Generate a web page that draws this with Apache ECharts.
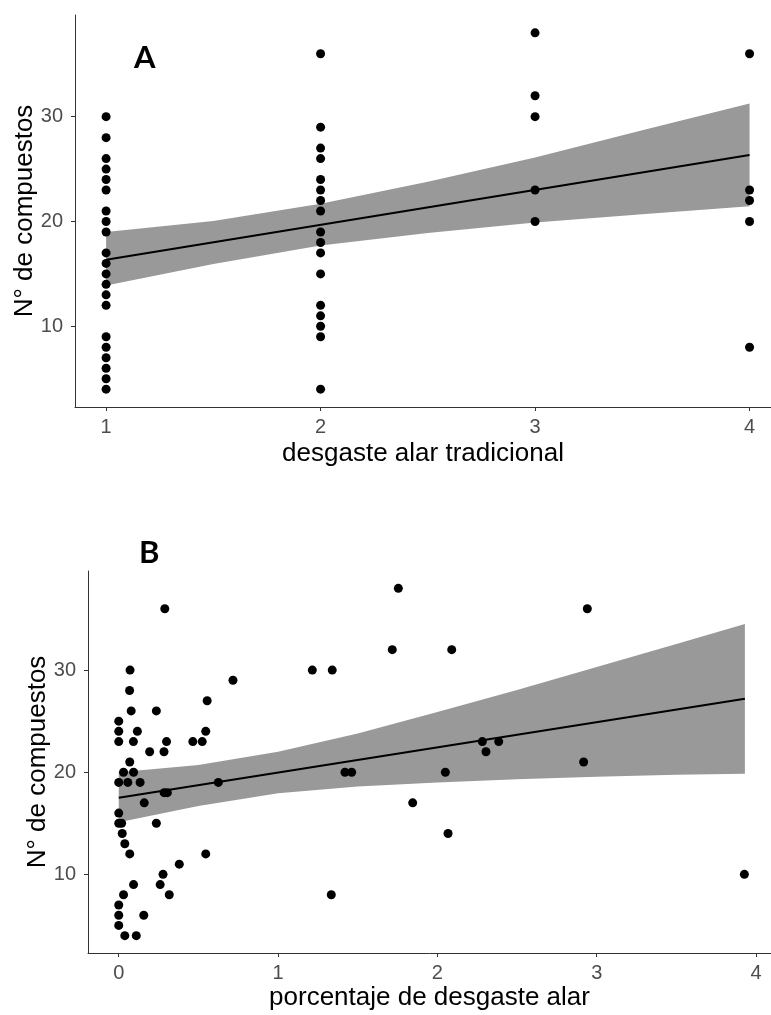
<!DOCTYPE html>
<html>
<head>
<meta charset="utf-8">
<script src="https://cdn.jsdelivr.net/npm/echarts@6/dist/echarts.min.js"></script>
<style>
  html, body { margin: 0; padding: 0; background: #fff; }
  #chart { width: 771px; height: 1015px; }
</style>
</head>
<body>
<div id="chart"></div>
<script>
// ---- panel A: N° de compuestos por nivel de desgaste tradicional ----
const compA1 = [30, 28, 26, 25, 24, 23, 21, 20, 19, 17, 16, 15, 14, 13, 12, 9, 8, 7, 6, 5, 4]
const compA2 = [36, 29, 27, 26, 24, 23, 22, 21, 19, 18, 17, 15, 12, 11, 10, 9, 4]
const compA3 = [38, 32, 30, 23, 20]
const compA4 = [36, 23, 22, 20, 8]

// recta ajustada y banda de confianza
const fitAx = [1, 4]
const fitAy = [16.35, 26.35]
const bandAx = [1, 1.5, 2, 2.5, 3, 3.5, 4]
const bandAlo = [13.9, 15.95, 17.7, 18.9, 19.9, 20.7, 21.45]
const bandAhi = [19.0, 20.05, 21.7, 23.8, 26.1, 28.7, 31.25]

// ---- panel B: porcentaje de desgaste alar ----
const pctB = [0.289, 0.071, 1.215, 1.34, 0.717, 0.068, 0.555, 0.236, 0.078, 0, 0, 0.117, 0.546, 0, 0.092,
  0.3, 0.465, 0.524, 0.194, 0.284, 0.069, 0.03, 0.093, 0, 0.057, 0.134, 0.625, 0.285, 0.305, 0.16,
  0, 0, 0.018, 0.236, 0.022, 0.038, 0.069, 0.546, 0.38, 0.278, 0.093, 0.26, 0.03, 0.317, 0, 0, 0.157,
  0, 0.038, 0.11, 1.755, 2.941, 1.717, 2.09, 2.282, 2.385, 2.305, 1.42, 1.462, 2.05, 2.918, 1.845,
  2.067, 3.927, 1.334]
const compB = [36, 30, 30, 30, 29, 28, 27, 26, 26, 25, 24, 24, 24, 23, 23,
  23, 23, 23, 22, 22, 21, 20, 20, 19, 19, 19, 19, 18, 18, 17,
  16, 15, 15, 15, 14, 13, 12, 12, 11, 10, 9, 9, 8, 8, 7, 6, 6,
  5, 4, 4, 38, 36, 32, 32, 23, 23, 22, 20, 20, 20, 21, 17,
  14, 10, 8]

const fitBx = [0, 3.93]
const fitBy = [17.5, 27.2]
const bandBx = [0, 0.5, 1, 1.5, 2, 2.5, 3, 3.5, 3.93]
const bandBlo = [15.1, 16.7, 17.95, 18.6, 19.0, 19.3, 19.55, 19.75, 19.85]
const bandBhi = [20.0, 20.7, 22.0, 23.8, 25.9, 28.05, 30.3, 32.55, 34.5]

// ticks
const ticksAx = [1, 2, 3, 4]
const ticksBx = [0, 1, 2, 3, 4]
const ticksY = [10, 20, 30]

const FONT = '"Liberation Sans", Arial, sans-serif'

const pointsA = []
;[compA1, compA2, compA3, compA4].forEach((vals, i) => {
  vals.forEach((v) => pointsA.push([ticksAx[i], v]))
})
const pointsB = pctB.map((x, i) => [x, compB[i]])

// banda como poligono, usando las escalas del eje
function bandSeries(idx, xs, lo, hi) {
  return {
    type: 'custom',
    xAxisIndex: idx,
    yAxisIndex: idx,
    silent: true,
    z: 1,
    data: xs.map((x, i) => [x, hi[i]]),
    encode: { x: 0, y: 1 },
    renderItem: (params, api) => {
      if (params.dataIndex !== 0) return null
      const pts = []
      xs.forEach((x, i) => pts.push(api.coord([x, hi[i]])))
      for (let i = xs.length - 1; i >= 0; i--) pts.push(api.coord([xs[i], lo[i]]))
      return { type: 'polygon', shape: { points: pts }, style: { fill: '#999999' } }
    },
  }
}

function xAxisCfg(idx, min, max, ticks, name, gap) {
  return {
    type: 'value',
    gridIndex: idx,
    min: min,
    max: max,
    name: name,
    nameLocation: 'middle',
    nameGap: gap,
    nameMoveOverlap: false,
    nameTextStyle: { fontFamily: FONT, fontSize: 26, color: '#000' },
    splitLine: { show: false },
    axisLine: { show: true, onZero: false, lineStyle: { color: '#333', width: 1 } },
    axisTick: { show: true, length: 4, customValues: ticks, lineStyle: { color: '#333' } },
    axisLabel: { customValues: ticks, margin: 10, fontFamily: FONT, fontSize: 20, color: '#4d4d4d' },
  }
}

function yAxisCfg(idx) {
  return {
    type: 'value',
    gridIndex: idx,
    min: 2.3,
    max: 39.7,
    name: 'N° de compuestos',
    nameLocation: 'middle',
    nameGap: 37,
    nameMoveOverlap: false,
    nameTextStyle: { fontFamily: FONT, fontSize: 26, color: '#000' },
    splitLine: { show: false },
    axisLine: { show: true, onZero: false, lineStyle: { color: '#333', width: 1 } },
    axisTick: { show: true, length: 4, customValues: ticksY, lineStyle: { color: '#333' } },
    axisLabel: { customValues: ticksY, margin: 12, fontFamily: FONT, fontSize: 20, color: '#4d4d4d' },
  }
}

const chart = echarts.init(document.getElementById('chart'), null, { renderer: 'canvas' })
chart.setOption({
  backgroundColor: '#fff',
  animation: false,
  grid: [
    { left: 75, top: 15, width: 696, height: 392, outerBoundsMode: 'none' },
    { left: 88, top: 571, width: 683, height: 382, outerBoundsMode: 'none' },
  ],
  xAxis: [
    xAxisCfg(0, 0.855, 4.1, ticksAx, 'desgaste alar tradicional', 34),
    xAxisCfg(1, -0.193, 4.094, ticksBx, 'porcentaje de desgaste alar', 32),
  ],
  yAxis: [yAxisCfg(0), yAxisCfg(1)],
  graphic: [
    { type: 'text', left: 134, top: 42, style: { text: 'A', font: 'bold 31px Lato, "Open Sans", sans-serif', fill: '#000' } },
    { type: 'text', left: 139, top: 537, style: { text: 'B', font: 'bold 31px Lato, "Open Sans", sans-serif', fill: '#000' } },
  ],
  series: [
    bandSeries(0, bandAx, bandAlo, bandAhi),
    {
      type: 'line',
      xAxisIndex: 0,
      yAxisIndex: 0,
      data: fitAx.map((x, i) => [x, fitAy[i]]),
      showSymbol: false,
      silent: true,
      z: 2,
      lineStyle: { color: '#000', width: 2 },
    },
    {
      type: 'scatter',
      xAxisIndex: 0,
      yAxisIndex: 0,
      data: pointsA,
      symbolSize: 9,
      z: 3,
      itemStyle: { color: '#000', opacity: 1 },
    },
    bandSeries(1, bandBx, bandBlo, bandBhi),
    {
      type: 'line',
      xAxisIndex: 1,
      yAxisIndex: 1,
      data: fitBx.map((x, i) => [x, fitBy[i]]),
      showSymbol: false,
      silent: true,
      z: 2,
      lineStyle: { color: '#000', width: 2 },
    },
    {
      type: 'scatter',
      xAxisIndex: 1,
      yAxisIndex: 1,
      data: pointsB,
      symbolSize: 9,
      z: 3,
      itemStyle: { color: '#000', opacity: 1 },
    },
  ],
})
</script>
</body>
</html>
